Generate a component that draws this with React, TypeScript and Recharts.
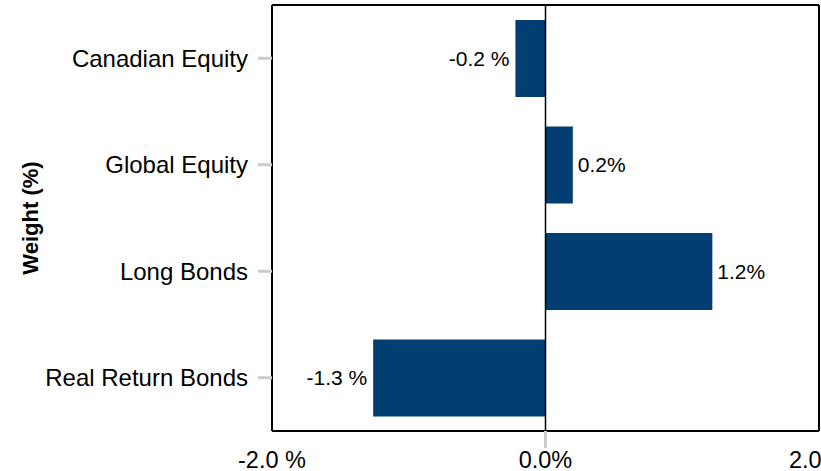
import React from 'react';
import {
  BarChart,
  Bar,
  XAxis,
  YAxis,
  CartesianGrid,
  ReferenceLine,
  LabelList,
} from 'recharts';

const categories = ['Canadian Equity', 'Global Equity', 'Long Bonds', 'Real Return Bonds'];
const weights = [-0.22, 0.2, 1.22, -1.26];
const weightLabels = ['-0.2 %', '0.2%', '1.2%', '-1.3 %'];
const xTicks = [-2, 0, 2];
const xTickLabels = ['-2.0 %', '0.0%', '2.0 %'];

const data = categories.map((name, i) => ({ name, weight: weights[i], label: weightLabels[i] }));

const FONT = 'Liberation Sans, Arial, sans-serif';
const BAR_COLOR = '#023e72';
const TICK_GRAY = '#c8ccd0';

// only the zero tick gets a tick mark in the original
const XTick = (props: any) => {
  const { x, y, payload } = props;
  const idx = xTicks.indexOf(payload.value);
  return (
    <g>
      {payload.value === 0 && (
        <line x1={x} x2={x} y1={y - 8} y2={y + 9} stroke={TICK_GRAY} strokeWidth={3} />
      )}
      <text x={x} y={y + 29} textAnchor="middle" fontSize={23.5} fill="#000" fontFamily={FONT}>
        {xTickLabels[idx]}
      </text>
    </g>
  );
};

const BarLabel = (props: any) => {
  const { x, y, width, height, index } = props;
  const v = weights[index];
  const left = Math.min(x, x + width);
  const right = Math.max(x, x + width);
  const tx = v < 0 ? left - 6 : right + 5;
  return (
    <text
      x={tx}
      y={y + height / 2}
      dy="0.35em"
      textAnchor={v < 0 ? 'end' : 'start'}
      fontSize={21}
      fill="#000"
      fontFamily={FONT}
    >
      {weightLabels[index]}
    </text>
  );
};

// the frame round the plot area
const frameH = ({ offset }: any) => [offset.top, offset.top + offset.height];
const frameV = ({ offset }: any) => [offset.left, offset.left + offset.width];

export default function App() {
  return (
    <div style={{ position: 'absolute', left: 0, top: 0, width: 821, height: 471, background: '#fff' }}>
      <BarChart
        width={821}
        height={471}
        data={data}
        layout="vertical"
        margin={{ top: 5, right: 2, bottom: 0, left: 0 }}
        barCategoryGap="14%"
      >
        <CartesianGrid
          stroke="#000"
          strokeWidth={2}
          horizontalCoordinatesGenerator={frameH}
          verticalCoordinatesGenerator={frameV}
        />
        <XAxis
          type="number"
          domain={[-2, 2]}
          ticks={xTicks}
          height={40}
          axisLine={false}
          tickLine={false}
          tick={<XTick />}
          interval={0}
        />
        <YAxis
          type="category"
          dataKey="name"
          width={272}
          axisLine={false}
          tickSize={14}
          tickMargin={10}
          tickLine={{ stroke: TICK_GRAY, strokeWidth: 3 }}
          tick={{ fill: '#000', fontSize: 24, fontFamily: FONT }}
          label={{
            value: 'Weight (%)',
            angle: -90,
            position: 'insideLeft',
            offset: 30,
            style: { fontSize: 22, fontWeight: 'bold', fill: '#000', fontFamily: FONT, textAnchor: 'middle' },
          }}
        />
        <Bar dataKey="weight" fill={BAR_COLOR} isAnimationActive={false}>
          <LabelList dataKey="label" content={<BarLabel />} />
        </Bar>
        <ReferenceLine x={0} stroke="#000" strokeWidth={1.5} />
      </BarChart>
    </div>
  );
}
